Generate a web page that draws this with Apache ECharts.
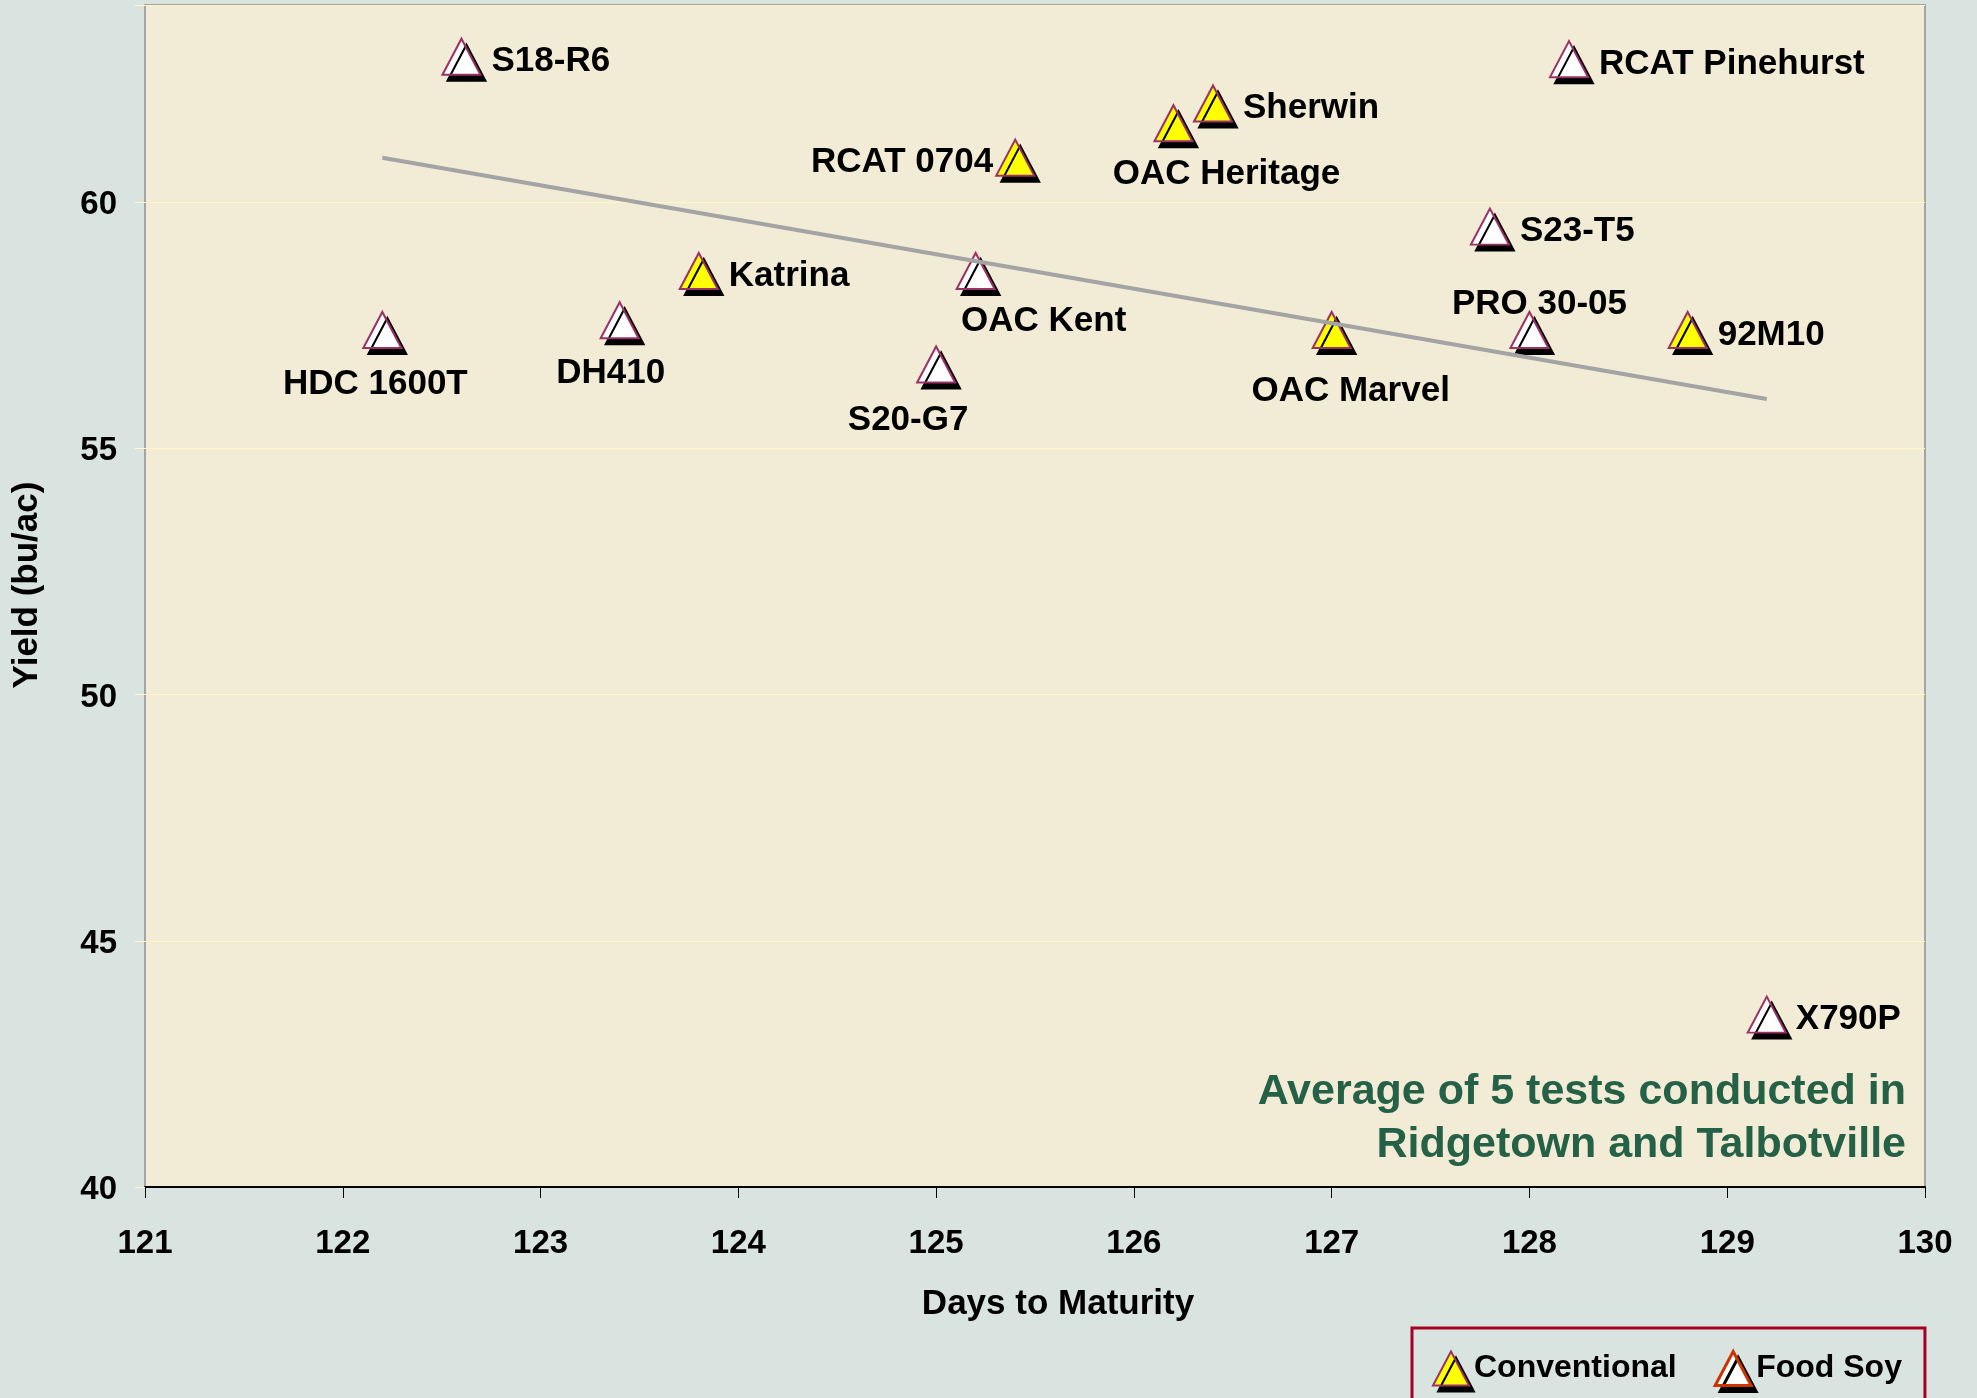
<!DOCTYPE html>
<html>
<head>
<meta charset="utf-8">
<script src="https://cdn.jsdelivr.net/npm/echarts@6/dist/echarts.min.js"></script>
<style>
  html, body { margin: 0; padding: 0; background: #d9e3df; }
  #chart { width: 1977px; height: 1398px; }
</style>
</head>
<body>
<div id="chart"></div>
<script>
// values
const conventionalNames = ['Katrina', 'RCAT 0704', 'OAC Heritage', 'Sherwin', 'OAC Marvel', '92M10'];
const conventionalDays = [123.8, 125.4, 126.2, 126.4, 127.0, 128.8];
const conventionalYield = [58.6, 60.9, 61.6, 62.0, 57.4, 57.4];

const foodSoyNames = ['HDC 1600T', 'S18-R6', 'DH410', 'S20-G7', 'OAC Kent', 'S23-T5', 'PRO 30-05', 'RCAT Pinehurst', 'X790P'];
const foodSoyDays = [122.2, 122.6, 123.4, 125.0, 125.2, 127.8, 128.0, 128.2, 129.2];
const foodSoyYield = [57.4, 62.95, 57.6, 56.7, 58.6, 59.5, 57.4, 62.9, 43.5];

// trend line end points
const trendDays = [122.2, 129.2];
const trendYield = [60.9, 56.0];

const legendNames = ['Conventional', 'Food Soy'];
const note = 'Average of 5 tests conducted in\nRidgetown and Talbotville';

// where each variety label sits
const labelSpots = {
  'Katrina': { position: 'right', distance: 10, offset: [0, 5] },
  'Sherwin': { position: 'right', distance: 10, offset: [0, 5] },
  '92M10': { position: 'right', distance: 10, offset: [0, 5] },
  'S18-R6': { position: 'right', distance: 10, offset: [0, 5] },
  'S23-T5': { position: 'right', distance: 10, offset: [0, 5] },
  'RCAT Pinehurst': { position: 'right', distance: 10, offset: [0, 5] },
  'X790P': { position: 'right', distance: 9, offset: [0, 5] },
  'RCAT 0704': { position: 'left', distance: 2, offset: [0, 5] },
  'HDC 1600T': { position: 'inside', offset: [-7, 54] },
  'DH410': { position: 'inside', offset: [-9, 53] },
  'S20-G7': { position: 'inside', offset: [-28, 56] },
  'OAC Kent': { position: 'inside', offset: [68, 50] },
  'OAC Heritage': { position: 'inside', offset: [53, 51] },
  'OAC Marvel': { position: 'inside', offset: [19, 61] },
  'PRO 30-05': { position: 'inside', offset: [10, -26] }
}

const shadow = { shadowColor: '#000', shadowBlur: 0, shadowOffsetX: 5, shadowOffsetY: 6 }
const boldFont = { fontFamily: 'Liberation Sans', fontWeight: 'bold', color: '#000' }
const pointFont = Object.assign({ fontSize: 35 }, boldFont)

function points(names, days, yields) {
  return names.map((n, i) => ({
    name: n,
    value: [days[i], yields[i]],
    label: Object.assign({ show: true, formatter: '{b}' }, pointFont, labelSpots[n])
  }))
}

const chart = echarts.init(document.getElementById('chart'), null, { renderer: 'canvas' })

chart.setOption({
  backgroundColor: '#d9e3df',
  animation: false,
  graphic: [{
    type: 'text',
    x: 1906,
    y: 1066,
    silent: true,
    style: {
      text: note,
      align: 'right',
      verticalAlign: 'top',
      fontFamily: 'Liberation Sans',
      fontWeight: 'bold',
      fontSize: 43,
      lineHeight: 53,
      fill: '#256146'
    }
  }],
  grid: {
    left: 145,
    right: 52,
    top: 5,
    bottom: 211,
    show: true,
    backgroundColor: '#f2ebd6',
    borderColor: '#a3a3a3',
    borderWidth: 2
  },
  xAxis: {
    type: 'value',
    min: 121,
    max: 130,
    interval: 1,
    name: 'Days to Maturity',
    nameLocation: 'middle',
    nameGap: 100,
    nameTextStyle: Object.assign({ fontSize: 35, padding: [0, 0, 0, 46] }, boldFont),
    axisLine: { show: true, lineStyle: { color: '#000', width: 2 } },
    axisTick: { show: true, length: 11, lineStyle: { color: '#000', width: 1 } },
    axisLabel: Object.assign({ margin: 40, fontSize: 33 }, boldFont),
    splitLine: { show: false }
  },
  yAxis: {
    type: 'value',
    min: 40,
    max: 64,
    interval: 5,
    name: 'Yield (bu/ac)',
    nameLocation: 'middle',
    nameGap: 100,
    nameTextStyle: Object.assign({ fontSize: 35, padding: [0, 0, 0, 22] }, boldFont),
    axisLine: { show: false },
    axisTick: { show: true, length: 10, lineStyle: { color: '#fff8c4', width: 1 } },
    axisLabel: Object.assign({
      margin: 28,
      fontSize: 33,
      verticalAlign: 'top',
      lineHeight: 6,
      formatter: v => (v % 5 === 0 ? String(v) : '')
    }, boldFont),
    splitLine: { show: true, lineStyle: { color: '#fff8c4', width: 1 } }
  },
  legend: {
    data: [
      { name: legendNames[0], itemStyle: Object.assign({ color: '#ffff00', borderColor: '#993366', borderWidth: 2 }, shadow) },
      { name: legendNames[1], itemStyle: Object.assign({ color: '#ffffff', borderColor: '#cc3300', borderWidth: 3 }, shadow) }
    ],
    icon: 'triangle',
    left: 1412,
    top: 1328,
    itemWidth: 36,
    itemHeight: 34,
    itemGap: 37,
    padding: [22, 23, 60, 20],
    borderColor: '#a50021',
    borderWidth: 3,
    textStyle: Object.assign({ fontSize: 32 }, boldFont)
  },
  series: [
    {
      name: legendNames[0],
      type: 'scatter',
      symbol: 'triangle',
      symbolSize: [38, 36],
      itemStyle: Object.assign({ color: '#ffff00', borderColor: '#993366', borderWidth: 2, opacity: 1 }, shadow),
      emphasis: { disabled: true },
      data: points(conventionalNames, conventionalDays, conventionalYield)
    },
    {
      name: legendNames[1],
      type: 'scatter',
      symbol: 'triangle',
      symbolSize: [38, 36],
      itemStyle: Object.assign({ color: '#ffffff', borderColor: '#993366', borderWidth: 2, opacity: 1 }, shadow),
      emphasis: { disabled: true },
      data: points(foodSoyNames, foodSoyDays, foodSoyYield)
    },
    {
      name: 'trend',
      type: 'line',
      z: 5,
      symbol: 'none',
      silent: true,
      lineStyle: { color: '#a4a4a4', width: 4 },
      data: trendDays.map((d, i) => [d, trendYield[i]])
    }
  ]
})
</script>
</body>
</html>
